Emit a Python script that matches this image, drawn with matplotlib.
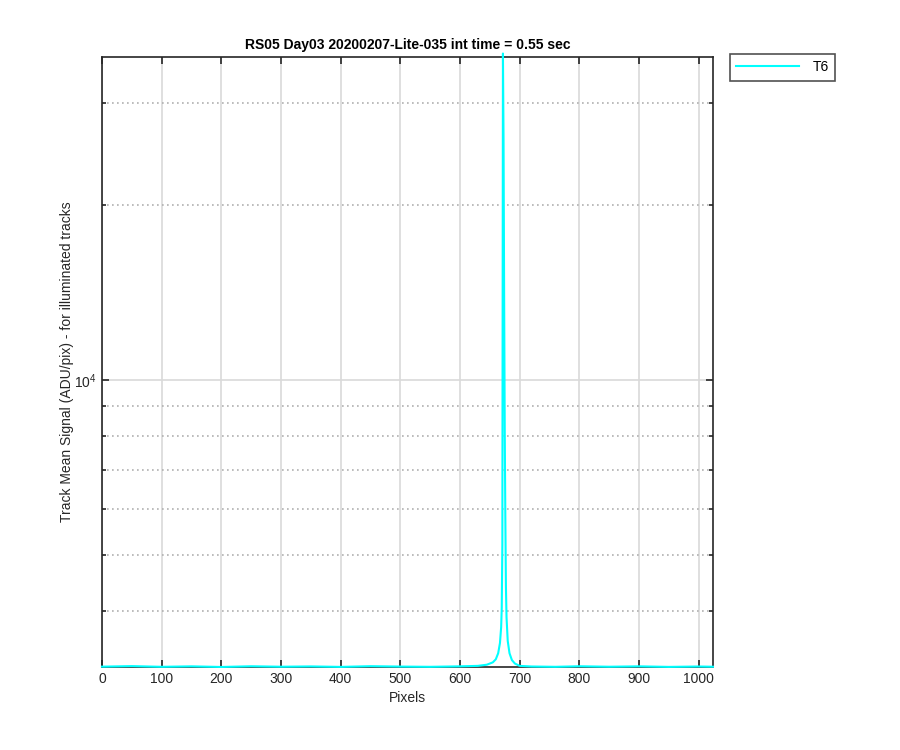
import numpy as np
import matplotlib
matplotlib.use("Agg")
import matplotlib.pyplot as plt
from matplotlib.ticker import LogLocator, NullFormatter, FixedLocator

plt.rcParams['font.family'] = ['Liberation Sans', 'DejaVu Sans']

# =========================
# DATA
# =========================
pixels = [0, 50, 100, 150, 200, 250, 300, 350, 400, 450, 500, 550, 600,
          630, 645, 655, 660, 664, 667, 669, 670, 671, 672, 673, 674,
          675, 676, 677, 678, 680, 683, 687, 692, 700, 720, 760, 800,
          850, 900, 950, 1000, 1024]
signal = [3205, 3212, 3203, 3209, 3201, 3210, 3204, 3208, 3202, 3211, 3206, 3203, 3209,
          3215, 3230, 3260, 3300, 3380, 3520, 3750, 4050, 5200, 36500, 26000, 14000,
          8200, 5800, 4400, 3900, 3550, 3380, 3290, 3245, 3215, 3207, 3203, 3210,
          3204, 3209, 3202, 3207, 3204]
series_name = "T6"

title = "RS05 Day03 20200207-Lite-035 int time = 0.55 sec"
xticks = list(range(0, 1001, 100))
y_top = 36000

# =========================
# FIGURE
# =========================
fig = plt.figure(figsize=(9, 7.5), dpi=100)
ax = fig.add_axes([0.1133, 0.1107, 0.6789, 0.8133])

ax.plot(pixels, signal, color='cyan', linewidth=1.5, label=series_name,
        zorder=3, clip_on=False)

ax.set_yscale('log')
ax.set_xlim(0, 1024)
ax.set_ylim(min(signal), y_top)

ax.xaxis.set_major_locator(FixedLocator(xticks))
ax.yaxis.set_major_locator(LogLocator(base=10, numticks=10))
ax.yaxis.set_minor_locator(LogLocator(base=10, subs=np.arange(2, 10), numticks=10))
ax.yaxis.set_minor_formatter(NullFormatter())

# grid like matlab
ax.grid(True, which='major', color='#d9d9d9', linestyle='-', linewidth=1.2)
ax.grid(True, which='minor', axis='y', color='#b0b0b0', linestyle=(0, (1, 2)), linewidth=1.2)
ax.set_axisbelow(True)

ax.tick_params(which='both', direction='in', top=True, right=True,
               labelsize=10, colors='#262626', width=1.2)
ax.tick_params(which='major', length=5)
ax.tick_params(which='minor', length=3)
for sp in ax.spines.values():
    sp.set_color('#262626')
    sp.set_linewidth(1.2)

ax.set_title(title, fontsize=10, fontweight='bold', pad=6)
ax.set_xlabel("Pixels", fontsize=10, color='#262626')
ax.set_ylabel("Track Mean Signal (ADU/pix) - for illuminated tracks", fontsize=10,
              color='#262626', labelpad=0)

leg = fig.legend(loc='upper left', bbox_to_anchor=(0.811, 0.928), borderaxespad=0,
                 fontsize=10, frameon=True, fancybox=False, handlelength=4.5,
                 borderpad=0.45, handletextpad=1.0)
leg.get_frame().set_edgecolor('#262626')
leg.get_frame().set_linewidth(1.2)

fig.savefig("out.png", dpi=100)
